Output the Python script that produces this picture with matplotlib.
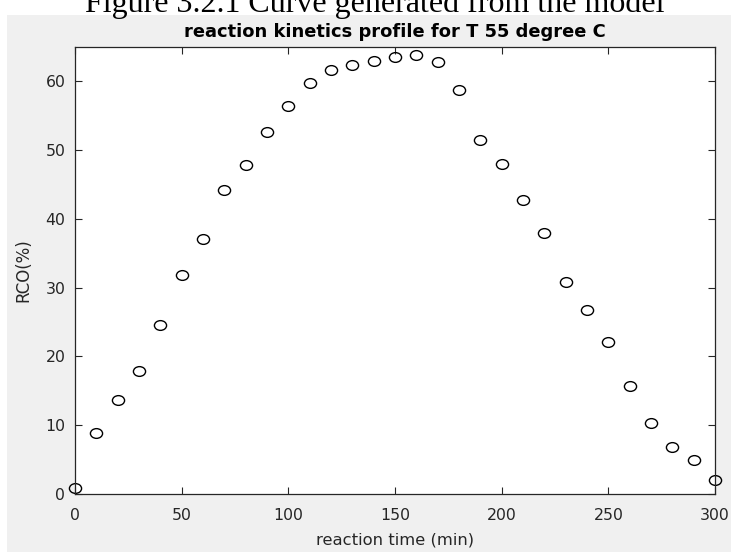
import numpy as np
import matplotlib
matplotlib.use("Agg")
import matplotlib.pyplot as plt
from matplotlib.markers import MarkerStyle
from matplotlib.transforms import Affine2D
from matplotlib.patches import Rectangle

# reaction time (min) and RCO (%)
time_min = [0, 10, 20, 30, 40, 50, 60, 70, 80, 90, 100, 110, 120, 130, 140, 150,
            160, 170, 180, 190, 200, 210, 220, 230, 240, 250, 260, 270, 280, 290, 300]
rco_pct = [0.9, 8.9, 13.7, 17.9, 24.6, 31.8, 37.1, 44.2, 47.9, 52.7, 56.4, 59.8,
           61.7, 62.4, 63.0, 63.6, 63.8, 62.8, 58.7, 51.5, 48.0, 42.7, 37.9, 30.9,
           26.7, 22.1, 15.7, 10.3, 6.9, 5.0, 2.0]
x_ticks = [0, 50, 100, 150, 200, 250, 300]
y_ticks = [0, 10, 20, 30, 40, 50, 60]

W, H = 731, 552
fig = plt.figure(figsize=(W / 100, H / 100), dpi=100, facecolor="white")

# grey matlab figure background
fig.patches.append(Rectangle((7 / W, 0), 1 - 7 / W, 1 - 15 / H,
                             transform=fig.transFigure, facecolor="#f0f0f0",
                             edgecolor="none", zorder=-5))

# caption cut off at the top of the page
fig.text(375 / W, 1 - 12 / H, "Figure 3.2.1 Curve generated from the model",
         ha="center", va="baseline", fontsize=23, family="Liberation Serif")

ax = fig.add_axes([75 / W, 1 - 494 / H, (715 - 75) / W, (494 - 47) / H])
ax.set_facecolor("white")

circle = MarkerStyle("o", transform=Affine2D().scale(1.25, 1.0))
ax.plot(time_min, rco_pct, linestyle="none", marker=circle, markersize=7,
        markerfacecolor="none", markeredgecolor="black", markeredgewidth=1.0,
        clip_on=False)

ax.set_xlim(0, 300)
ax.set_ylim(0, 65)
ax.set_xticks(x_ticks)
ax.set_yticks(y_ticks)
ax.tick_params(direction="in", length=5, width=0.8, top=True, right=True,
               labelsize=11.3, colors="#262626", labelcolor="#262626")
ax.tick_params(axis="x", pad=10)
ax.tick_params(axis="y", pad=7)
for s in ax.spines.values():
    s.set_color("#262626")
    s.set_linewidth(0.9)

ax.set_title("reaction kinetics profile for T 55 degree C", fontsize=12.9,
             fontweight="bold", pad=7)
ax.set_xlabel("reaction time (min)", fontsize=11.8, color="#262626", labelpad=7)
ax.set_ylabel("RCO(%)", fontsize=12, color="#262626", labelpad=9)

fig.savefig("out.png", dpi=100, facecolor="white")
